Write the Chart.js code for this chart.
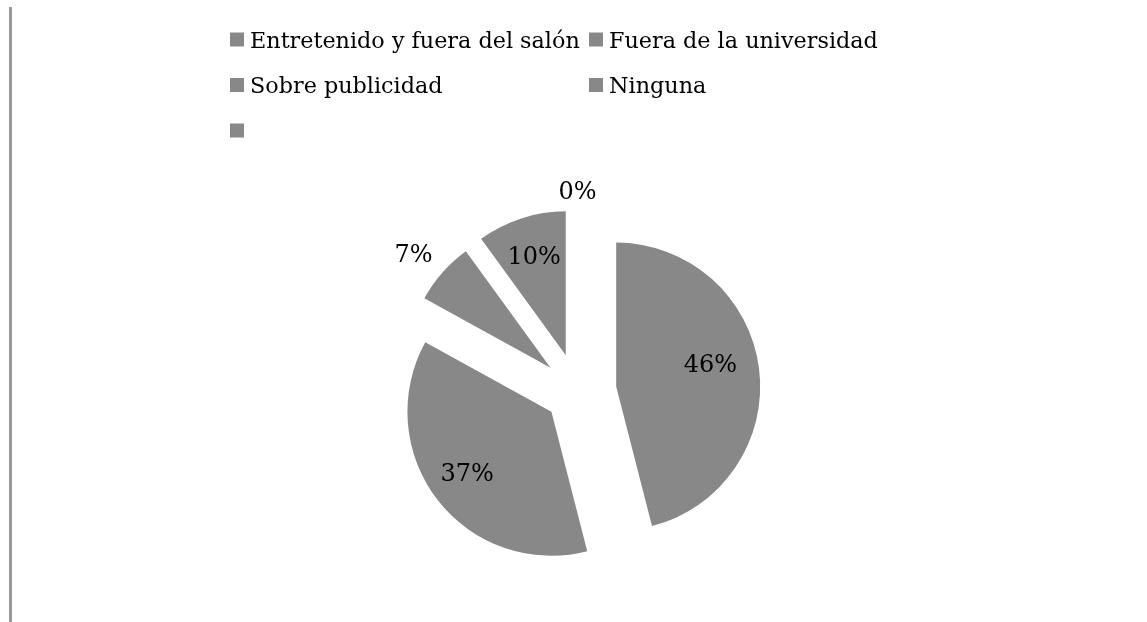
<!DOCTYPE html>
<html>
<head>
<meta charset="utf-8">
<script src="https://cdn.jsdelivr.net/npm/chart.js@4.4.1/dist/chart.umd.min.js"></script>
<style>
  html, body { margin: 0; padding: 0; background: #ffffff; }
  #wrap { position: relative; width: 1147px; height: 622px; background: #ffffff; }
  #edge { position: absolute; left: 9px; top: 7px; width: 3px; height: 615px; background: #9a9a9a; }
  #c { position: absolute; left: 0; top: 0; }
</style>
</head>
<body>
<div id="wrap">
  <div id="edge"></div>
  <canvas id="c" width="1147" height="622"></canvas>
</div>
<script>
// ---- data ----
const categories = ["Entretenido y fuera del salón", "Fuera de la universidad", "Sobre publicidad", "Ninguna", ""];
const percentages = [46, 37, 7, 10, 0];
const percentLabels = ["46%", "37%", "7%", "10%", "0%"];

// ---- styles ----
const sliceColors = ["#888888", "#888888", "#888888", "#888888", "#888888"];
const explodeDist = [39, 33, 36, 38, 0];
const labelFactor = [0.67, 0.73, 1.23, 0.71, 1.38];
const labelAngleShift = [-5, 1, -2, 0, 0]; // degrees
const serif = "'DejaVu Serif', 'Liberation Serif', serif";

const explodePlugin = {
  id: 'explode',
  beforeDatasetDraw(chart, args) {
    const meta = args.meta;
    const ctx = chart.ctx;
    meta.data.forEach((arc, i) => {
      const mid = (arc.startAngle + arc.endAngle) / 2;
      const d = explodeDist[i] || 0;
      ctx.save();
      ctx.translate(Math.cos(mid) * d, Math.sin(mid) * d);
      arc.draw(ctx);
      ctx.restore();
    });
    return false;
  },
  afterDatasetsDraw(chart) {
    const meta = chart.getDatasetMeta(0);
    const ctx = chart.ctx;
    ctx.save();
    ctx.fillStyle = '#000000';
    ctx.font = "24px " + serif;
    ctx.textAlign = 'center';
    ctx.textBaseline = 'middle';
    meta.data.forEach((arc, i) => {
      const mid = (arc.startAngle + arc.endAngle) / 2;
      const la = mid + labelAngleShift[i] * Math.PI / 180;
      const d = explodeDist[i] || 0;
      const r = arc.outerRadius * labelFactor[i];
      const x = arc.x + Math.cos(mid) * d + Math.cos(la) * r;
      const y = arc.y + Math.sin(mid) * d + Math.sin(la) * r;
      ctx.fillText(percentLabels[i], x, y);
    });
    ctx.restore();
  }
};

const gridLegendPlugin = {
  id: 'gridLegend',
  afterDraw(chart) {
    const ctx = chart.ctx;
    const colX = [230, 589];
    const rowY = [47.5, 93, 138.5];
    const box = 14;
    ctx.save();
    ctx.font = "22.3px " + serif;
    ctx.textBaseline = 'alphabetic';
    ctx.textAlign = 'left';
    chart.data.labels.forEach((lab, i) => {
      const col = i % 2, row = Math.floor(i / 2);
      const x = colX[col], y = rowY[row];
      ctx.fillStyle = chart.data.datasets[0].backgroundColor[i];
      ctx.fillRect(x, y - 15, box, box);
      ctx.fillStyle = '#000000';
      ctx.fillText(lab, x + box + 6, y);
    });
    ctx.restore();
  }
};

new Chart(document.getElementById('c'), {
  type: 'pie',
  data: {
    labels: categories,
    datasets: [{
      data: percentages,
      backgroundColor: sliceColors,
      borderWidth: 0
    }]
  },
  options: {
    responsive: false,
    animation: false,
    radius: 144,
    layout: { padding: { top: 170, bottom: 9, left: 108, right: 100 } },
    plugins: {
      legend: { display: false },
      tooltip: { enabled: false }
    }
  },
  plugins: [explodePlugin, gridLegendPlugin]
});
</script>
</body>
</html>
